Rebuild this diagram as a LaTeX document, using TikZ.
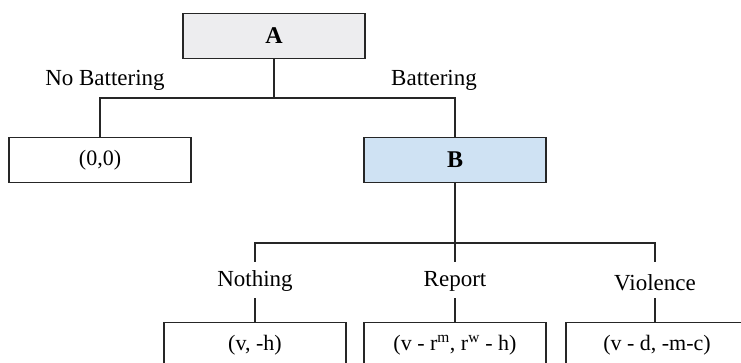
\documentclass[tikz,border=0pt]{standalone}
\usepackage{fontspec}
\setmainfont{Liberation Serif}
\definecolor{agray}{HTML}{EDEDEF}
\definecolor{bblue}{HTML}{CFE2F3}
\begin{document}
\begin{tikzpicture}[x=1pt,y=-1pt,
  box/.style={draw=black!85,line width=1.7pt,minimum width=182pt,minimum height=45pt,inner sep=0pt,font=\fontsize{22}{25}\selectfont},
  head/.style={box,font=\fontsize{24}{27}\selectfont\bfseries},
  lab/.style={inner sep=0pt,font=\fontsize{23}{26}\selectfont},
  con/.style={draw=black!85,line width=1.6pt}]
\useasboundingbox (0,0) rectangle (741,362);
\begin{scope}
\clip (0,0) rectangle (741,362);
\node[head,fill=agray] (A) at (274,36) {A};
\node[box] (Z) at (100,160) {(0,0)};
\node[head,fill=bblue] (B) at (455,160) {B};
\node[box] (N) at (255,345) {(v, -h)};
\node[box] (R) at (455,345) {(v - r\textsuperscript{m}, r\textsuperscript{w} - h)};
\node[box] (V) at (657,345) {(v - d, -m-c)};
\node[lab] (lnb) at (105,80) {No Battering};
\node[lab] (lb) at (434,80) {Battering};
\node[lab] (ln) at (255,281) {Nothing};
\node[lab] (lr) at (455,281) {Report};
\node[lab] (lv) at (655,283) {Violence};
\coordinate (a1) at (274,98);
\coordinate (b1) at (455,243);
\draw[con] (A.south) -- (a1);
\draw[con] (a1) -| (Z.north);
\draw[con] (a1) -| (B.north);
\draw[con] (B.south) -- (b1);
\draw[con] (b1) -| (255,262);
\draw[con] (b1) -| (655,262);
\draw[con] (b1) -- (455,262);
\draw[con] (N.north) -- ++(0,-24);
\draw[con] (R.north) -- ++(0,-24);
\draw[con] (V.north -| lv) -- ++(0,-24);
\end{scope}
\end{tikzpicture}
\end{document}
